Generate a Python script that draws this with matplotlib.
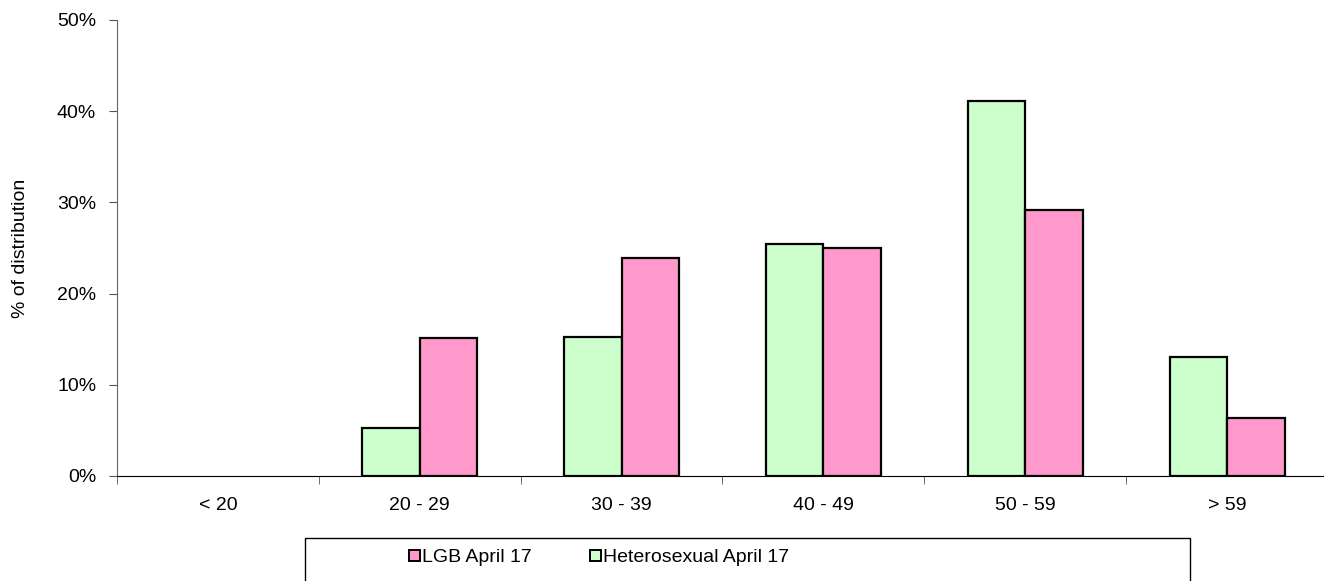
import matplotlib.pyplot as plt
import numpy as np
from matplotlib.patches import Rectangle, Patch
from matplotlib.ticker import FuncFormatter, FixedLocator

plt.rcParams['font.family'] = ['Liberation Sans', 'DejaVu Sans']

# age bands and % of distribution per group
age_bands = ['< 20', '20 - 29', '30 - 39', '40 - 49', '50 - 59', '> 59']
hetero_pct = [0, 5.3, 15.2, 25.4, 41.1, 13.0]
lgb_pct = [0, 15.1, 23.9, 25.0, 29.2, 6.4]

green = '#CCFFCC'
pink = '#FF99CC'
fs = 14

fig = plt.figure(figsize=(13.24, 5.81), dpi=100)
ax = fig.add_axes([117 / 1324, 1 - 476 / 581, 1211 / 1324, 456 / 581])

x = np.arange(len(age_bands))
w = 0.285
# empty bars get no outline, like the original
ax.bar(x - w / 2, hetero_pct, w, color=green, edgecolor='black',
       linewidth=[1.6 if v else 0 for v in hetero_pct])
ax.bar(x + w / 2, lgb_pct, w, color=pink, edgecolor='black',
       linewidth=[1.6 if v else 0 for v in lgb_pct])

ax.set_xlim(-0.5, len(age_bands) - 0.5)
ax.set_ylim(0, 50)
ax.set_yticks(range(0, 51, 10))
ax.yaxis.set_major_formatter(FuncFormatter(lambda v, p: f'{v:.0f}%'))
ax.set_xticks(x)
ax.set_xticklabels(age_bands)
ax.xaxis.set_minor_locator(FixedLocator(np.arange(-0.5, len(age_bands), 1)))
ax.tick_params(axis='x', which='major', length=0, pad=15, labelsize=fs)
ax.tick_params(axis='x', which='minor', length=6, direction='out', color='#555555')
ax.tick_params(axis='y', length=6, direction='out', pad=9, labelsize=fs, color='#555555')

ax.spines['top'].set_visible(False)
ax.spines['right'].set_visible(False)
ax.spines['left'].set_color('#666666')
ax.spines['bottom'].set_color('black')

ax.set_ylabel('% of distribution', fontsize=fs, labelpad=20)

# legend box (runs off the bottom of the image)
fig.patches.append(Rectangle((305 / 1324, -0.02), 885 / 1324, 0.02 + 1 - 538 / 581,
                             transform=fig.transFigure, fill=False,
                             edgecolor='black', linewidth=1))
handles = [Patch(facecolor=pink, edgecolor='black', linewidth=1.4),
           Patch(facecolor=green, edgecolor='black', linewidth=1.4)]
fig.legend(handles, ['LGB April 17', 'Heterosexual April 17'], ncol=2,
           loc='center left', bbox_to_anchor=(409 / 1324, 1 - 558 / 581),
           frameon=False, fontsize=fs, handlelength=0.55, handleheight=0.55,
           handletextpad=0.12, columnspacing=3.0, borderpad=0, borderaxespad=0)

fig.savefig('out.png', dpi=100)
